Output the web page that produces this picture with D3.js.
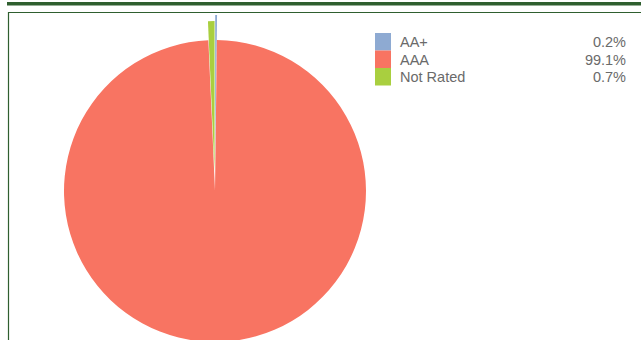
<!DOCTYPE html>
<html>
<head>
<meta charset="utf-8">
<script src="https://cdn.jsdelivr.net/npm/d3@7"></script>
<style>
  body { margin: 0; background: #fff; }
  svg { display: block; }
</style>
</head>
<body>
<div id="pie-chart"></div>
<script>
// chart data
var ratings = ["AA+", "AAA", "Not Rated"];
var shares = [0.2, 99.1, 0.7];
var labels = ["0.2%", "99.1%", "0.7%"];
var colors = ["#8eaad2", "#f87462", "#a9cf3f"];
var explode = [25, 0, 19];

var width = 641, height = 340;

var svg = d3.select("#pie-chart")
  .append("svg")
    .attr("width", width)
    .attr("height", height);

// frame: thick bar on top, thin box below
svg.append("rect")
  .attr("x", 7).attr("y", 2)
  .attr("width", width - 7).attr("height", 3.5)
  .attr("fill", "#2f5f2f");

svg.append("path")
  .attr("d", "M" + width + ",12.5 H8.5 V" + height)
  .attr("fill", "none")
  .attr("stroke", "#2f5f2f")
  .attr("stroke-width", 1.2);

var cx = 215, cy = 191, radius = 151;

var pie = d3.pie().sort(null).value(function(d) { return d; });
var arc = d3.arc().innerRadius(0).outerRadius(radius);
var arcs = pie(shares);

var g = svg.append("g")
  .attr("transform", "translate(" + cx + "," + cy + ")");

g.selectAll("path.slice")
  .data(arcs)
  .enter()
  .append("path")
    .attr("class", "slice")
    .attr("fill", function(d, i) { return colors[i]; })
    .attr("d", arc)
    .attr("transform", function(d, i) {
      var off = explode[i];
      if (!off) return null;
      var a = (d.startAngle + d.endAngle) / 2;
      return "translate(" + (Math.sin(a) * off) + "," + (-Math.cos(a) * off) + ")";
    });

// legend
var legend = svg.append("g")
  .attr("transform", "translate(375,33)");

var rowH = 17.5;

legend.selectAll("rect")
  .data(ratings)
  .enter()
  .append("rect")
    .attr("x", 0)
    .attr("y", function(d, i) { return i * rowH; })
    .attr("width", 16)
    .attr("height", rowH)
    .attr("fill", function(d, i) { return colors[i]; });

legend.selectAll("text.name")
  .data(ratings)
  .enter()
  .append("text")
    .attr("class", "name")
    .attr("x", 25)
    .attr("y", function(d, i) { return i * rowH + 14; })
    .attr("font-family", "Liberation Sans, Arial, sans-serif")
    .attr("font-size", 14.5)
    .attr("fill", "#6a6a6a")
    .text(function(d) { return d; });

legend.selectAll("text.pct")
  .data(labels)
  .enter()
  .append("text")
    .attr("class", "pct")
    .attr("x", 251)
    .attr("y", function(d, i) { return i * rowH + 14; })
    .attr("text-anchor", "end")
    .attr("font-family", "Liberation Sans, Arial, sans-serif")
    .attr("font-size", 14.5)
    .attr("fill", "#6a6a6a")
    .text(function(d) { return d; });
</script>
</body>
</html>
